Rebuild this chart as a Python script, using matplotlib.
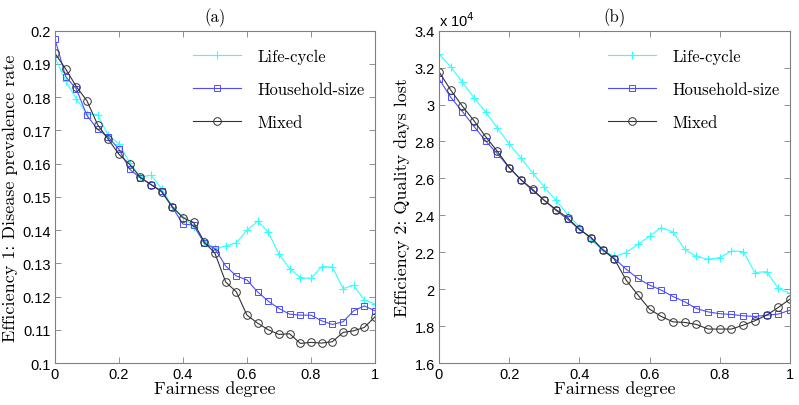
import numpy as np
import matplotlib
matplotlib.use('Agg')
import matplotlib.pyplot as plt
from matplotlib.ticker import FuncFormatter

# --- data (31 points, fairness 0..1) ---
fairness = np.linspace(0, 1, 31)

prev_life = [0.192, 0.185, 0.1795, 0.175, 0.1747, 0.1685, 0.166, 0.1603, 0.156, 0.1565,
             0.1525, 0.147, 0.144, 0.141, 0.1367, 0.1345, 0.1352, 0.1362, 0.1399, 0.1427,
             0.1394, 0.1327, 0.1284, 0.1257, 0.1255, 0.129, 0.1289, 0.1224, 0.1234, 0.119, 0.1177]
prev_house = [0.1975, 0.1862, 0.1825, 0.1745, 0.1703, 0.168, 0.1643, 0.1583, 0.1557, 0.1537,
              0.1518, 0.1469, 0.1418, 0.1415, 0.136, 0.1344, 0.1292, 0.1262, 0.125, 0.1214,
              0.1186, 0.1164, 0.1147, 0.1144, 0.1144, 0.1127, 0.1116, 0.1124, 0.1157, 0.1172, 0.1157]
prev_mixed = [0.1932, 0.1885, 0.1832, 0.1789, 0.1717, 0.1673, 0.1628, 0.1598, 0.1559, 0.1537,
              0.1515, 0.147, 0.1437, 0.1423, 0.1364, 0.133, 0.1244, 0.1214, 0.1144, 0.112,
              0.11, 0.1086, 0.1088, 0.1059, 0.1062, 0.106, 0.1064, 0.1092, 0.1097, 0.1107, 0.1139]

# quality days lost, in units of 10^4
qdl_life = [3.274, 3.205, 3.121, 3.036, 2.959, 2.872, 2.787, 2.71, 2.631, 2.553,
            2.481, 2.404, 2.337, 2.265, 2.213, 2.177, 2.198, 2.243, 2.288, 2.333,
            2.31, 2.216, 2.177, 2.162, 2.171, 2.207, 2.204, 2.09, 2.095, 2.004, 1.977]
qdl_house = [3.139, 3.04, 2.962, 2.881, 2.802, 2.733, 2.659, 2.593, 2.535, 2.481,
             2.427, 2.378, 2.324, 2.279, 2.213, 2.166, 2.108, 2.058, 2.022, 1.995,
             1.96, 1.932, 1.895, 1.877, 1.867, 1.863, 1.856, 1.852, 1.859, 1.865, 1.886]
qdl_mixed = [3.178, 3.079, 2.991, 2.912, 2.825, 2.746, 2.659, 2.593, 2.541, 2.481,
             2.431, 2.386, 2.324, 2.279, 2.213, 2.162, 2.049, 1.969, 1.892, 1.852,
             1.823, 1.82, 1.809, 1.784, 1.784, 1.784, 1.805, 1.829, 1.859, 1.901, 1.946]

labels = ['Life-cycle', 'Household-size', 'Mixed']

SERIF = 'cmr10'
SANS = 'Liberation Sans'
GRID_GREY = '#808080'

styles = [
    dict(color='#33ffff', marker='+', markersize=6, mew=0.8, lw=0.8),
    dict(color='#4d4dff', marker='s', markersize=4.5, mfc='none', mew=0.7, lw=0.8),
    dict(color='#333333', marker='o', markersize=5.5, mfc='none', mew=0.7, lw=0.8),
]


def style_axes(ax, ylim, yticks, ylabel, title, yfmt):
    ax.set_xlim(0, 1)
    ax.set_ylim(*ylim)
    ax.set_xticks(np.arange(0, 1.01, 0.2))
    ax.set_yticks(yticks)
    ax.xaxis.set_major_formatter(FuncFormatter(lambda v, p: '%g' % round(v, 2)))
    ax.yaxis.set_major_formatter(yfmt)
    for s in ax.spines.values():
        s.set_color(GRID_GREY)
        s.set_linewidth(0.8)
    ax.tick_params(direction='in', top=True, right=True, length=4, width=0.6,
                   color=GRID_GREY, labelsize=10.5, pad=3)
    for lab in ax.get_xticklabels() + ax.get_yticklabels():
        lab.set_fontfamily(SANS)
    ax.set_xlabel('Fairness degree', fontfamily=SERIF, fontsize=13, labelpad=-1)
    ax.set_ylabel(ylabel, fontfamily=SERIF, fontsize=13, labelpad=3)
    ax.set_title(title, fontfamily=SERIF, fontsize=12, pad=7)
    leg = ax.legend(loc='upper right', frameon=False, prop={'family': SERIF, 'size': 12},
                    handlelength=2.9, handletextpad=1.0, labelspacing=1.05,
                    borderaxespad=0.2, bbox_to_anchor=(1.0, 0.975))
    return leg


fig = plt.figure(figsize=(7.99, 4.06), dpi=100)
ax1 = fig.add_axes([0.0688, 0.1034, 0.4005, 0.8185])
ax2 = fig.add_axes([0.5494, 0.1034, 0.4393, 0.8185])

for ys, lab, st in zip([prev_life, prev_house, prev_mixed], labels, styles):
    ax1.plot(fairness, ys, label=lab, **st)
for ys, lab, st in zip([qdl_life, qdl_house, qdl_mixed], labels, styles):
    ax2.plot(fairness, ys, label=lab, **st)

style_axes(ax1, (0.1, 0.2), np.arange(0.1, 0.2001, 0.01),
           'Efficiency 1: Disease prevalence rate', '(a)',
           FuncFormatter(lambda v, p: '%g' % round(v, 2)))
style_axes(ax2, (1.6, 3.4), np.arange(1.6, 3.4001, 0.2),
           'Efficiency 2: Quality days lost', '(b)',
           FuncFormatter(lambda v, p: '%g' % round(v, 1)))

# multiplier label like MATLAB
ax2.text(0.0, 1.005, 'x 10$^4$', transform=ax2.transAxes, fontfamily=SANS,
         fontsize=10.5, ha='left', va='bottom')

fig.savefig('out.png', dpi=100)
